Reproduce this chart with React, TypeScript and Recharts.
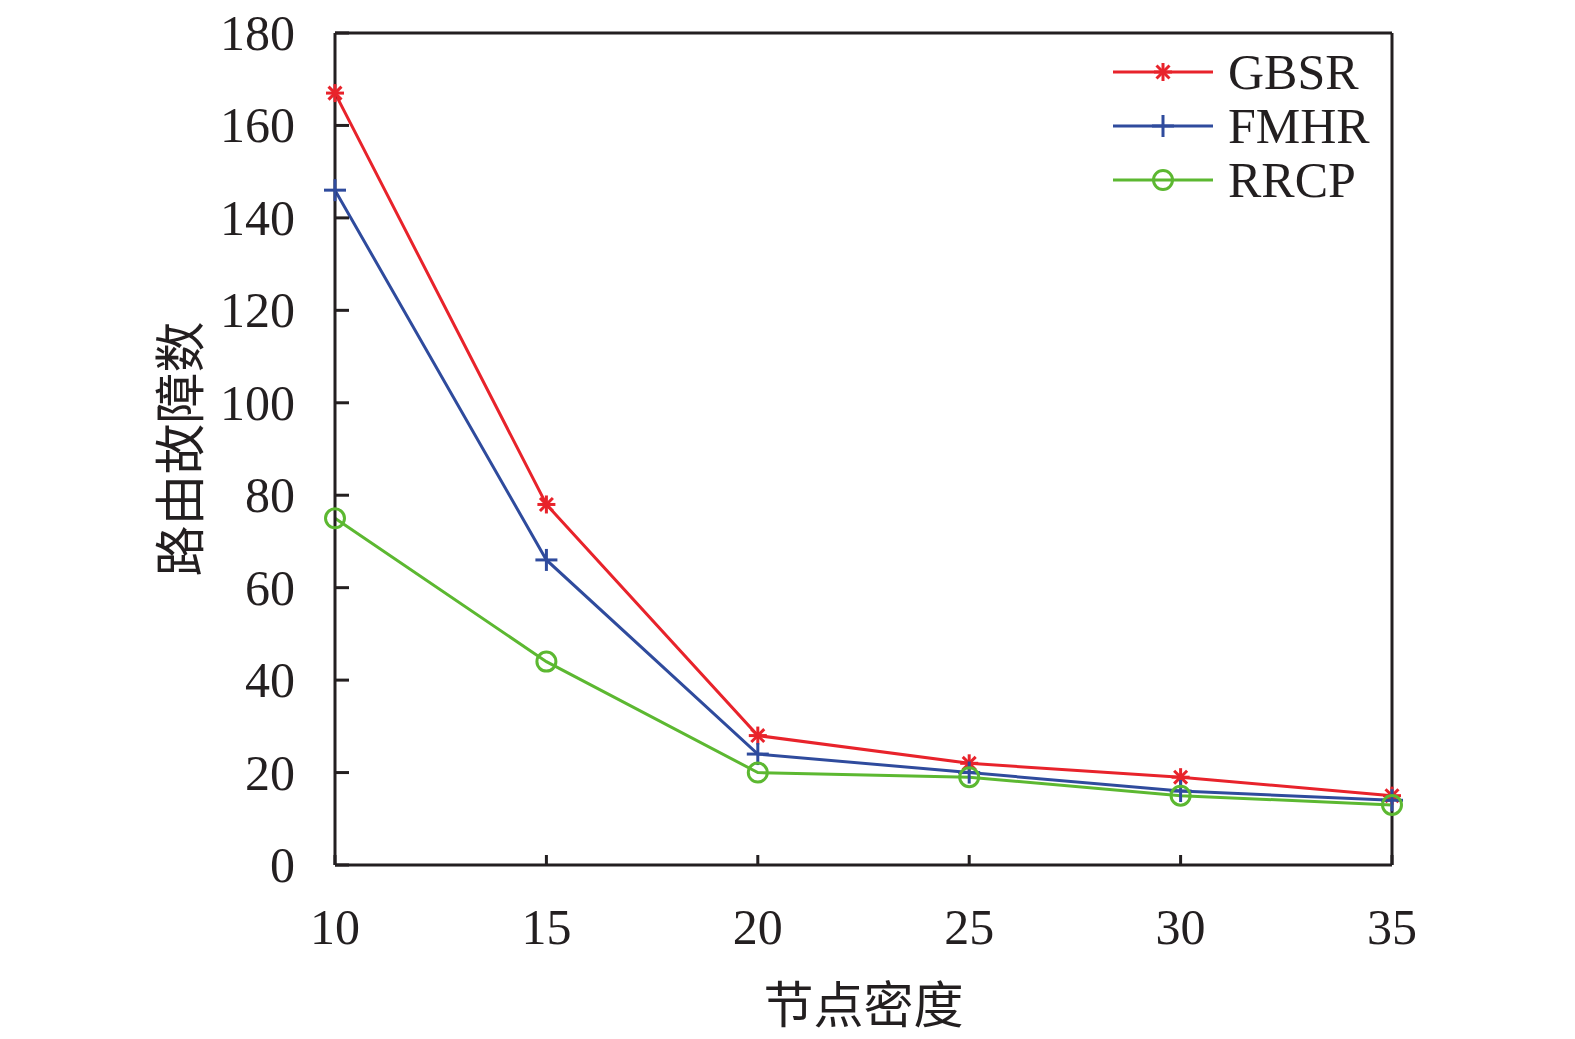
import React from 'react';
import { LineChart, Line, XAxis, YAxis, ReferenceLine } from 'recharts';

const xValues = [10, 15, 20, 25, 30, 35];
const gbsr = [167, 78, 28, 22, 19, 15];
const fmhr = [146, 66, 24, 20, 16, 14];
const rrcp = [75, 44, 20, 19, 15, 13];
const yTicks = [0, 20, 40, 60, 80, 100, 120, 140, 160, 180];
const xTicks = [10, 15, 20, 25, 30, 35];
const seriesNames = ['GBSR', 'FMHR', 'RRCP'];

const data = xValues.map((x, i) => ({ x, GBSR: gbsr[i], FMHR: fmhr[i], RRCP: rrcp[i] }));

const RED = '#e8232b';
const BLUE = '#2f4b9d';
const GREEN = '#5cb831';
const INK = '#231f20';
const SERIF = '"Liberation Serif", "Times New Roman", serif';
const CJK = '"Noto Sans CJK SC", sans-serif';

const Star = ({ cx, cy, color }: any) => {
  if (cx == null || cy == null) return null;
  const r = 9;
  const d = r * 0.72;
  return (
    <g stroke={color} strokeWidth={3}>
      <line x1={cx - r} y1={cy} x2={cx + r} y2={cy} />
      <line x1={cx} y1={cy - r} x2={cx} y2={cy + r} />
      <line x1={cx - d} y1={cy - d} x2={cx + d} y2={cy + d} />
      <line x1={cx - d} y1={cy + d} x2={cx + d} y2={cy - d} />
    </g>
  );
};

const Plus = ({ cx, cy, color }: any) => {
  if (cx == null || cy == null) return null;
  const r = 11;
  return (
    <g stroke={color} strokeWidth={3}>
      <line x1={cx - r} y1={cy} x2={cx + r} y2={cy} />
      <line x1={cx} y1={cy - r} x2={cx} y2={cy + r} />
    </g>
  );
};

const Ring = ({ cx, cy, color }: any) => {
  if (cx == null || cy == null) return null;
  return <circle cx={cx} cy={cy} r={9.5} fill="none" stroke={color} strokeWidth={3} />;
};

const markers: any = { GBSR: Star, FMHR: Plus, RRCP: Ring };
const colors: any = { GBSR: RED, FMHR: BLUE, RRCP: GREEN };

const YTick = (props: any) => {
  const { x, y, payload } = props;
  return (
    <g>
      <line x1={x} y1={y} x2={x + 14} y2={y} stroke={INK} strokeWidth={3} />
      <text x={x - 40} y={y} textAnchor="end" dominantBaseline="central" fontFamily={SERIF} fontSize={50} fill={INK}>
        {payload.value}
      </text>
    </g>
  );
};

const XTick = (props: any) => {
  const { x, y, payload } = props;
  return (
    <g>
      <line x1={x} y1={y} x2={x} y2={y - 10} stroke={INK} strokeWidth={3} />
      <text x={x} y={y + 62} textAnchor="middle" dominantBaseline="central" fontFamily={SERIF} fontSize={50} fill={INK}>
        {payload.value}
      </text>
    </g>
  );
};

const LegendBox = () => (
  <div style={{ position: 'absolute', left: 1113, top: 45 }}>
    {seriesNames.map((name) => {
      const M = markers[name];
      return (
        <div key={name} style={{ display: 'flex', alignItems: 'center', height: 54 }}>
          <svg width={100} height={54}>
            <line x1={0} y1={27} x2={100} y2={27} stroke={colors[name]} strokeWidth={3} />
            <M cx={50} cy={27} color={colors[name]} />
          </svg>
          <span style={{ marginLeft: 15, fontFamily: SERIF, fontSize: 50, lineHeight: '54px', color: INK }}>{name}</span>
        </div>
      );
    })}
  </div>
);

const XLabel = (props: any) => {
  const { viewBox } = props;
  return (
    <text x={viewBox.x + viewBox.width / 2} y={1001} textAnchor="middle" dominantBaseline="central" fontFamily={CJK} fontSize={50} fill={INK}>
      节点密度
    </text>
  );
};

const YLabel = (props: any) => {
  const { viewBox } = props;
  const cy = viewBox.y + viewBox.height / 2;
  return (
    <text x={177} y={cy} transform={`rotate(-90 177 ${cy})`} textAnchor="middle" dominantBaseline="central" fontFamily={CJK} fontSize={51} fill={INK}>
      路由故障数
    </text>
  );
};

export default function App() {
  return (
    <div style={{ position: 'absolute', left: 0, top: 0, width: 1575, height: 1039, background: '#fff' }}>
      <LineChart width={1575} height={1039} data={data} margin={{ top: 33, right: 183, bottom: 0, left: 0 }}>
        <XAxis
          dataKey="x"
          type="number"
          domain={[10, 35]}
          ticks={xTicks}
          height={174}
          tickSize={0}
          tickMargin={0}
          tickLine={false}
          tick={<XTick />}
          axisLine={{ stroke: INK, strokeWidth: 3 }}
          label={<XLabel />}
          interval={0}
        />
        <YAxis
          type="number"
          domain={[0, 180]}
          ticks={yTicks}
          width={335}
          tickSize={0}
          tickMargin={0}
          tickLine={false}
          tick={<YTick />}
          axisLine={{ stroke: INK, strokeWidth: 3 }}
          label={<YLabel />}
          interval={0}
        />
        <ReferenceLine y={180} stroke={INK} strokeWidth={3} />
        <ReferenceLine x={35} stroke={INK} strokeWidth={3} />
        {seriesNames.map((name) => {
          const M = markers[name];
          return (
            <Line
              key={name}
              dataKey={name}
              type="linear"
              stroke={colors[name]}
              strokeWidth={3}
              dot={(p: any) => <M key={`${name}-${p.index}`} cx={p.cx} cy={p.cy} color={colors[name]} />}
              activeDot={false}
              isAnimationActive={false}
            />
          );
        })}
      </LineChart>
      <LegendBox />
    </div>
  );
}
